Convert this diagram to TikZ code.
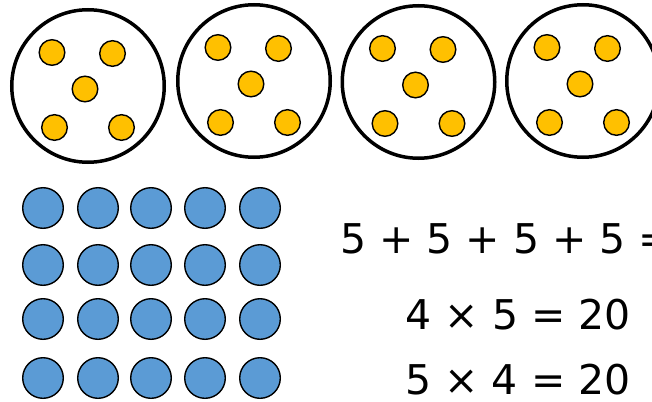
\documentclass[tikz,border=0pt]{standalone}
\usepackage{fontspec}
\setmainfont{DejaVu Sans}
\definecolor{dotyellow}{HTML}{FFC000}
\definecolor{dotblue}{HTML}{5B9BD5}
\begin{document}
\begin{tikzpicture}[x=1pt,y=-1pt,
  group/.style={circle,draw=black,line width=3.5pt,minimum size=152.5pt,inner sep=0pt},
  ydot/.style={circle,draw=black,line width=1.4pt,fill=dotyellow,minimum size=25.6pt,inner sep=0pt},
  bdot/.style={circle,draw=black,line width=1.4pt,fill=dotblue,minimum size=40.6pt,inner sep=0pt},
  eq/.style={font=\fontsize{41}{41}\selectfont,inner sep=0pt,anchor=base}]
\useasboundingbox (0,0) rectangle (652,401);
\foreach \cx/\cy [count=\i] in {88/86,254/81,418.5/82,583/81}{
  \node[group] (g\i) at (\cx,\cy) {};
  \node[ydot] (g\i a) at (\cx-36,\cy-33.5) {};
  \node[ydot] (g\i b) at (\cx+24.5,\cy-32.5) {};
  \node[ydot] (g\i c) at (\cx-3,\cy+3) {};
  \node[ydot] (g\i d) at (\cx-33.5,\cy+41.5) {};
  \node[ydot] (g\i e) at (\cx+33.5,\cy+41.5) {};
}
\foreach \y [count=\r] in {208,265,319,378}{
  \foreach \x [count=\c] in {43,98,151,205,260}{
    \node[bdot] (b\r\c) at (\x,\y) {};
  }
}
\node[eq,anchor=base west] (sum) at (340,253) {5 + 5 + 5 + 5 =};
\node[eq] (m1) at (518.5,329) {4 × 5 = 20};
\node[eq] (m2) at (518,394) {5 × 4 = 20};
\end{tikzpicture}
\end{document}
